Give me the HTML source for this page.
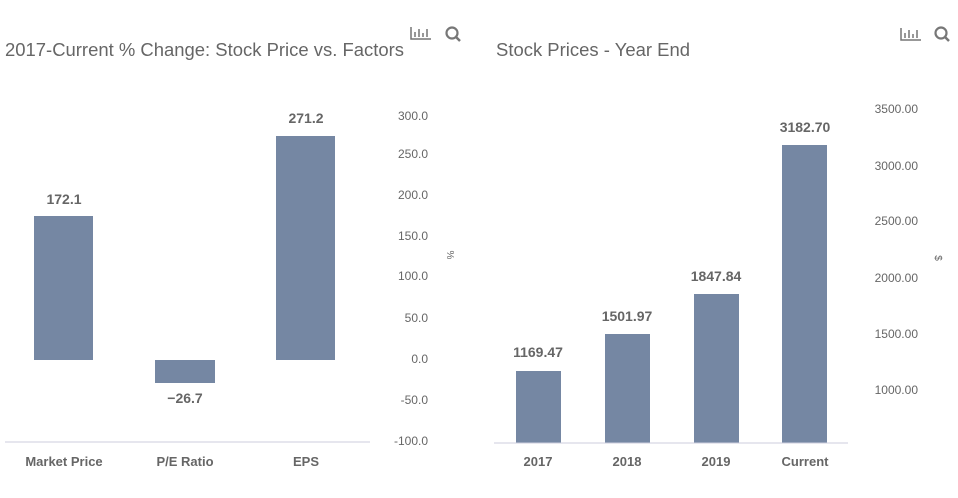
<!DOCTYPE html>
<html><head><style>body{margin:0;background:#fff}svg{display:block}</style></head><body>
<svg width="958" height="498" xmlns="http://www.w3.org/2000/svg" font-family="Liberation Sans, sans-serif">
<rect width="958" height="498" fill="#fff"/>
<text x="5" y="56" font-size="18" fill="#666" textLength="399" lengthAdjust="spacingAndGlyphs">2017-Current % Change: Stock Price vs. Factors</text>
<text x="496" y="56" font-size="18" fill="#666" textLength="194" lengthAdjust="spacingAndGlyphs">Stock Prices - Year End</text>
<g stroke="#777" stroke-width="1.5" fill="none">
<path d="M411 27v12h20M415 37v-5M419 37v-8M423 37v-4M427 37v-8"/>
<circle cx="452" cy="33" r="5.5" stroke-width="2.2"/><path d="M456 37l4 4" stroke-width="2.5"/>
<path d="M901 28v12h20M905 38v-5M909 38v-8M913 38v-4M917 38v-8"/>
<circle cx="941" cy="33" r="5.5" stroke-width="2.2"/><path d="M945 37l4 4" stroke-width="2.5"/>
</g>
<g fill="#7587a3">
<rect x="34" y="216" width="59" height="144"/>
<rect x="155" y="360" width="60" height="23"/>
<rect x="276" y="136" width="59" height="224"/>
<rect x="516" y="371" width="45" height="72"/>
<rect x="605" y="334" width="45" height="109"/>
<rect x="694" y="294" width="45" height="149"/>
<rect x="782" y="145" width="45" height="298"/>
</g>
<line x1="5" y1="442" x2="370" y2="442" stroke="#ccd" stroke-width="1"/>
<line x1="494" y1="443" x2="848" y2="443" stroke="#ccd" stroke-width="1"/>
<g font-size="14" font-weight="bold" fill="#666" text-anchor="middle">
<text x="64" y="204">172.1</text><text x="185" y="403">−26.7</text><text x="306" y="123">271.2</text>
<text x="538" y="357">1169.47</text><text x="627" y="321">1501.97</text><text x="716" y="281">1847.84</text><text x="805" y="132">3182.70</text>
</g>
<g font-size="13" font-weight="bold" fill="#666" text-anchor="middle">
<text x="64" y="466">Market Price</text><text x="185" y="466">P/E Ratio</text><text x="306" y="466">EPS</text>
<text x="538" y="466">2017</text><text x="627" y="466">2018</text><text x="716" y="466">2019</text><text x="805" y="466">Current</text>
</g>
<g font-size="12" fill="#666" text-anchor="end">
<text x="428" y="120">300.0</text><text x="428" y="158">250.0</text><text x="428" y="199">200.0</text><text x="428" y="240">150.0</text><text x="428" y="280">100.0</text><text x="428" y="322">50.0</text><text x="428" y="363">0.0</text><text x="428" y="404">-50.0</text><text x="428" y="445">-100.0</text>
<text x="918" y="113">3500.00</text><text x="918" y="170">3000.00</text><text x="918" y="225">2500.00</text><text x="918" y="282">2000.00</text><text x="918" y="338">1500.00</text><text x="918" y="394">1000.00</text>
</g>
<text x="447" y="255" font-size="10" fill="#666" transform="rotate(90 447 255)" text-anchor="middle">%</text>
<text x="935" y="258" font-size="10" fill="#666" transform="rotate(90 935 258)" text-anchor="middle">$</text>
</svg>
</body></html>
